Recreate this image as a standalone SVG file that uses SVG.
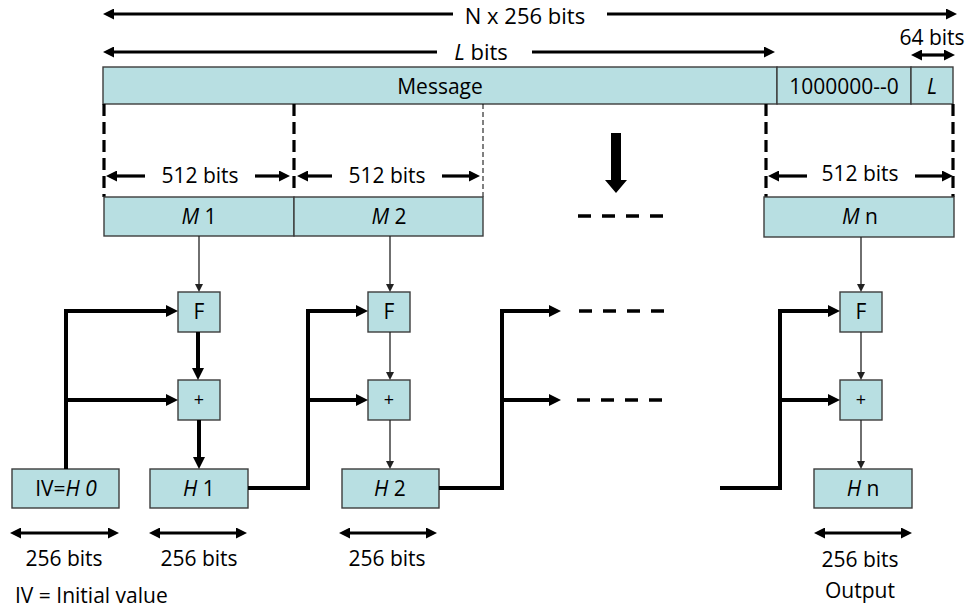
<svg xmlns="http://www.w3.org/2000/svg" width="966" height="610" viewBox="0 0 966 610">
  <defs>
    <style>
      .box { fill: #b8dfe2; stroke: #3c3c3c; stroke-width: 1.4; }
      .t { font-family: "Open Sans", "Noto Sans", "Liberation Sans", sans-serif; font-size: 21px; fill: #000; text-anchor: middle; }
      .big { font-size: 22px; }
      .op { font-size: 18px; }
      .it { font-style: italic; }
      .thick { fill: none; stroke: #000; stroke-width: 4; marker-end: url(#headThick); }
      .thin { fill: none; stroke: #222; stroke-width: 1.3; marker-end: url(#headThin); }
      .dim { fill: none; stroke: #000; stroke-width: 3.2; }
      .one { marker-end: url(#headDim); }
      .both { marker-start: url(#headDim); marker-end: url(#headDim); }
      .cut { fill: none; stroke: #000; stroke-width: 3.2; stroke-dasharray: 12 6; }
      .cutThin { fill: none; stroke: #000; stroke-width: 1; stroke-dasharray: 5 3; }
      .more { fill: none; stroke: #000; stroke-width: 3.5; stroke-dasharray: 13 11; }
    </style>
    <marker id="headThick" markerUnits="userSpaceOnUse" markerWidth="13" markerHeight="12" refX="3" refY="6" orient="auto">
      <path d="M0,0 L12,6 L0,12 z" fill="#000"/>
    </marker>
    <marker id="headThin" markerUnits="userSpaceOnUse" markerWidth="9" markerHeight="8" refX="2" refY="4" orient="auto">
      <path d="M0,0 L8,4 L0,8 z" fill="#222"/>
    </marker>
    <marker id="headDim" markerUnits="userSpaceOnUse" markerWidth="12" markerHeight="11" refX="2" refY="5.5" orient="auto-start-reverse">
      <path d="M0,0 L11,5.5 L0,11 z" fill="#000"/>
    </marker>
  </defs>

  <!-- overall length dimensions -->
  <g id="dimensions">
    <line class="dim one" x1="453" y1="14" x2="112" y2="14" />
    <line class="dim one" x1="607" y1="14" x2="948" y2="14" />
    <text class="t big" x="525" y="24">N x 256 bits</text>

    <line class="dim one" x1="437" y1="52" x2="112" y2="52" />
    <line class="dim one" x1="532" y1="52" x2="766" y2="52" />
    <text class="t big" x="481" y="60"><tspan class="it">L</tspan> bits</text>

    <text class="t" x="932" y="45">64 bits</text>
    <line class="dim both" x1="920" y1="55" x2="946" y2="55" />
  </g>

  <!-- padded message -->
  <g id="message">
    <rect class="box" x="103" y="67" width="674" height="37" />
    <text class="t" x="440" y="94">Message</text>
  </g>
  <g id="padding">
    <rect class="box" x="777" y="67" width="134" height="37" />
    <text class="t" x="844" y="94">1000000--0</text>
  </g>
  <g id="length">
    <rect class="box" x="911" y="67" width="42" height="37" />
    <text class="t it" x="932" y="94">L</text>
  </g>

  <!-- block boundaries -->
  <g id="block-cuts">
    <line class="cut" x1="104" y1="104" x2="104" y2="197" />
    <line class="cut" x1="294" y1="104" x2="294" y2="192" />
    <line class="cutThin" x1="483" y1="104" x2="483" y2="197" />
    <line class="cut" x1="766" y1="104" x2="766" y2="197" />
    <line class="cut" x1="953" y1="104" x2="953" y2="197" />

    <line class="dim one" x1="145" y1="176" x2="115" y2="176" />
    <text class="t" x="200" y="183">512 bits</text>
    <line class="dim one" x1="255" y1="176" x2="281" y2="176" />

    <line class="dim one" x1="332" y1="176" x2="306" y2="176" />
    <text class="t" x="387" y="183">512 bits</text>
    <line class="dim one" x1="442" y1="176" x2="471" y2="176" />

    <line class="dim one" x1="807" y1="176" x2="777" y2="176" />
    <text class="t" x="860" y="181">512 bits</text>
    <line class="dim one" x1="915" y1="176" x2="944" y2="176" />

    <path d="M611,133 H621 V180 H627 L616,193 L605,180 H611 Z" fill="#000" />
  </g>

  <!-- message blocks -->
  <g id="M1">
    <rect class="box" x="104" y="197" width="190" height="39" />
    <text class="t" x="199" y="224"><tspan class="it">M</tspan> 1</text>
  </g>
  <g id="M2">
    <rect class="box" x="294" y="197" width="189" height="39" />
    <text class="t" x="389" y="224"><tspan class="it">M</tspan> 2</text>
  </g>
  <g id="Mn">
    <rect class="box" x="764" y="197" width="190" height="40" />
    <text class="t" x="860" y="224"><tspan class="it">M</tspan> n</text>
  </g>

  <!-- compression function and addition -->
  <g id="F1">
    <rect class="box" x="178" y="292" width="42" height="40" />
    <text class="t" x="199" y="319">F</text>
  </g>
  <g id="A1">
    <rect class="box" x="178" y="380" width="42" height="40" />
    <text class="t op" x="199" y="406">+</text>
  </g>
  <g id="F2">
    <rect class="box" x="368" y="292" width="42" height="40" />
    <text class="t" x="389" y="319">F</text>
  </g>
  <g id="A2">
    <rect class="box" x="368" y="380" width="42" height="40" />
    <text class="t op" x="389" y="406">+</text>
  </g>
  <g id="Fn">
    <rect class="box" x="840" y="292" width="42" height="40" />
    <text class="t" x="861" y="319">F</text>
  </g>
  <g id="An">
    <rect class="box" x="840" y="380" width="42" height="40" />
    <text class="t op" x="861" y="406">+</text>
  </g>

  <!-- chaining values -->
  <g id="H0">
    <rect class="box" x="12" y="469" width="107" height="39" />
    <text class="t" x="66" y="496">IV=<tspan class="it">H 0</tspan></text>
  </g>
  <g id="H1">
    <rect class="box" x="150" y="469" width="98" height="39" />
    <text class="t" x="199" y="496"><tspan class="it">H</tspan> 1</text>
  </g>
  <g id="H2">
    <rect class="box" x="342" y="469" width="97" height="39" />
    <text class="t" x="390" y="496"><tspan class="it">H</tspan> 2</text>
  </g>
  <g id="Hn">
    <rect class="box" x="814" y="469" width="98" height="39" />
    <text class="t" x="863" y="496"><tspan class="it">H</tspan> n</text>
  </g>

  <!-- connectors -->
  <g id="connectors">
    <line class="thin" x1="199" y1="236" x2="199" y2="286" />
    <line class="thin" x1="390" y1="236" x2="390" y2="286" />
    <line class="thin" x1="861" y1="237" x2="861" y2="286" />

    <line class="thick" x1="198" y1="332" x2="198" y2="371" />
    <line class="thick" x1="199" y1="420" x2="199" y2="460" />
    <line class="thin" x1="390" y1="332" x2="390" y2="374" />
    <line class="thin" x1="390" y1="420" x2="390" y2="463" />
    <line class="thin" x1="861" y1="332" x2="861" y2="374" />
    <line class="thin" x1="861" y1="420" x2="861" y2="463" />

    <polyline class="thick" points="66,469 66,311 169,311" />
    <line class="thick" x1="66" y1="400" x2="169" y2="400" />

    <polyline class="thick" points="248,488 308,488 308,311 359,311" />
    <line class="thick" x1="308" y1="400" x2="359" y2="400" />

    <polyline class="thick" points="439,488 502,488 502,311 552,311" />
    <line class="thick" x1="502" y1="400" x2="552" y2="400" />

    <polyline class="thick" points="720,488 780,488 780,311 831,311" />
    <line class="thick" x1="780" y1="400" x2="831" y2="400" />

    <line class="more" x1="578" y1="216" x2="663" y2="216" />
    <line class="more" x1="579" y1="311" x2="664" y2="311" />
    <line class="more" x1="577" y1="400" x2="662" y2="400" />
  </g>

  <!-- chaining value widths -->
  <g id="widths">
    <line class="dim both" x1="19" y1="533" x2="110" y2="533" />
    <line class="dim both" x1="158" y1="533" x2="238" y2="533" />
    <line class="dim both" x1="348" y1="533" x2="428" y2="533" />
    <line class="dim both" x1="823" y1="533" x2="903" y2="533" />
    <text class="t" x="64" y="566">256 bits</text>
    <text class="t" x="199" y="566">256 bits</text>
    <text class="t" x="387" y="566">256 bits</text>
    <text class="t" x="860" y="567">256 bits</text>
    <text class="t" x="860" y="598">Output</text>
    <text class="t" x="15" y="603" style="text-anchor:start">IV = Initial value</text>
  </g>
</svg>
